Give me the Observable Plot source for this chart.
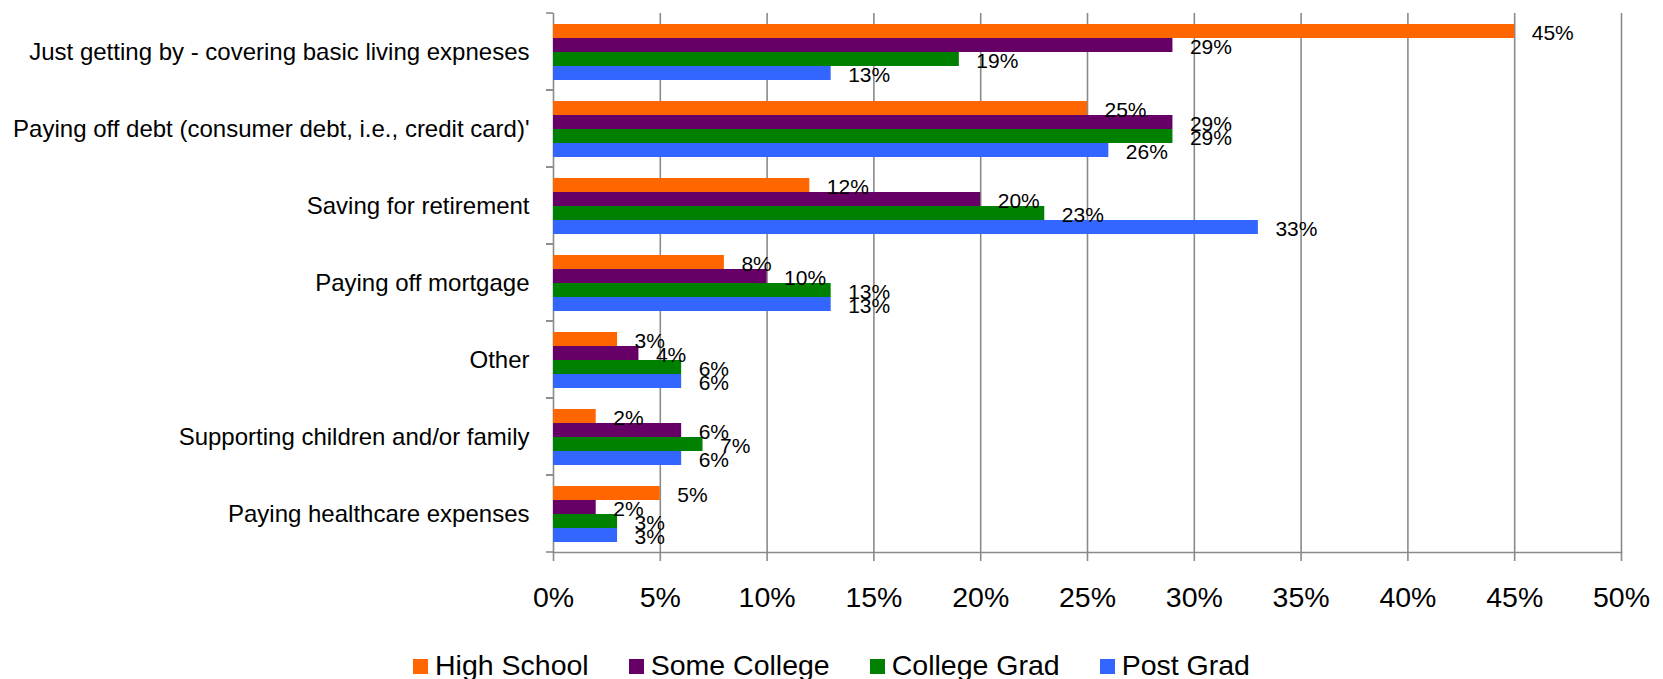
<!DOCTYPE html>
<html><head><meta charset="utf-8">
<script src="https://cdn.jsdelivr.net/npm/d3@7"></script>
<script src="https://cdn.jsdelivr.net/npm/@observablehq/plot@0.6"></script>
<style>
html,body{margin:0;padding:0;background:#fff;overflow:hidden;}
#chart{position:relative;width:1663px;height:679px;font-family:"Liberation Sans",Arial,sans-serif;}
#legend{position:absolute;left:0;width:1663px;top:651px;display:flex;justify-content:center;gap:40px;font-size:28.5px;line-height:1;color:#000;white-space:nowrap;}
#legend .item{display:flex;align-items:flex-start;}
#legend .sw{width:15px;height:15px;margin-right:7px;margin-top:8px;}
</style></head><body><div id="chart"></div>
<script>
const categories = [
  "Just getting by - covering basic living expneses",
  "Paying off debt (consumer debt, i.e., credit card)'",
  "Saving for retirement",
  "Paying off mortgage",
  "Other",
  "Supporting children and/or family",
  "Paying healthcare expenses"
];
const series = ["High School", "Some College", "College Grad", "Post Grad"];
const colors = ["#FF6600", "#660066", "#008000", "#3366FF"];
const highSchool  = [45, 25, 12, 8, 3, 2, 5];
const someCollege = [29, 29, 20, 10, 4, 6, 2];
const collegeGrad = [19, 29, 23, 13, 6, 7, 3];
const postGrad    = [13, 26, 33, 13, 6, 6, 3];
const xTicks = [0, 5, 10, 15, 20, 25, 30, 35, 40, 45, 50];

const seriesValues = [highSchool, someCollege, collegeGrad, postGrad];
const table = categories.flatMap((c, i) => series.map((s, j) => ({category: c, series: s, value: seriesValues[j][i]})));

const gridColor = "#8a8a8a";
const font = '"Liberation Sans", Arial, sans-serif';

function boundaryTicks(index, scales, values, dimensions) {
  const g = d3.create("svg:g").attr("stroke", gridColor).attr("stroke-width", 1.6);
  let r;
  if (scales.y && scales.y.range) r = scales.y.range();
  else r = [dimensions.marginTop, dimensions.height - dimensions.marginBottom];
  const x0 = scales.x(0);
  for (const yy of r) {
    g.append("line").attr("x1", x0 - 7).attr("x2", x0).attr("y1", yy).attr("y2", yy);
  }
  return g.node();
}

const chart = Plot.plot({
  width: 1663, height: 620,
  marginLeft: 553, marginRight: 42, marginTop: 12, marginBottom: 67,
  style: {fontFamily: font, fontSize: "21px", color: "#000", background: "transparent"},
  x: {domain: [0, 50]},
  y: {domain: series, paddingInner: 0, paddingOuter: 0.75, axis: null},
  fy: {domain: categories, padding: 0, label: null},
  color: {domain: series, range: colors},
  marks: [
    Plot.gridX(xTicks, {stroke: gridColor, strokeOpacity: 1, strokeWidth: 1.6}),
    boundaryTicks,
    Plot.barX(table, {x: "value", y: "series", fy: "category", fill: "series"}),
    Plot.text(table, {x: "value", y: "series", fy: "category", text: d => d.value + "%", textAnchor: "start", dx: 17, dy: 1.5, fontSize: 21, fill: "#000"}),
    Plot.axisFy({anchor: "left", tickSize: 0, tickPadding: 24, fontSize: 24, label: null, fill: "#000"}),
    Plot.axisX(xTicks, {anchor: "bottom", tickFormat: d => d + "%", tickSize: 9, tickPadding: 25, fontSize: 28.5, stroke: gridColor, strokeWidth: 1.6, fill: "#000", label: null}),
    Plot.frame({anchor: "bottom", facetAnchor: "bottom", stroke: gridColor, strokeWidth: 1.6})
  ]
});
const container = document.getElementById("chart");
container.appendChild(chart);

const legend = document.createElement("div");
legend.id = "legend";
series.forEach((s, i) => {
  const item = document.createElement("div");
  item.className = "item";
  const sw = document.createElement("span");
  sw.className = "sw";
  sw.style.background = colors[i];
  const label = document.createElement("span");
  label.textContent = s;
  item.appendChild(sw);
  item.appendChild(label);
  legend.appendChild(item);
});
container.appendChild(legend);
</script></body></html>
